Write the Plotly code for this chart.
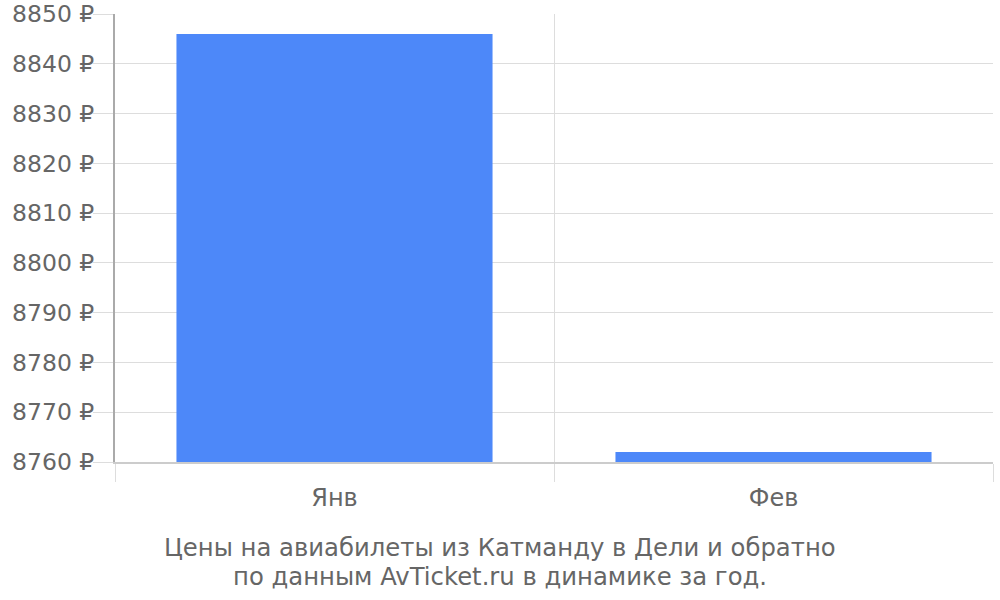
import plotly.graph_objects as go

months = ["Янв", "Фев"]
prices = [8846, 8762]
y_ticks = [8760, 8770, 8780, 8790, 8800, 8810, 8820, 8830, 8840, 8850]
y_tick_labels = [f"{v} ₽" for v in y_ticks]
title_lines = ["Цены на авиабилеты из Катманду в Дели и обратно",
               "по данным AvTicket.ru в динамике за год."]

font = "DejaVu Sans"
grey = "#666666"

W, H = 1000, 600
plot_left, plot_right, plot_top, plot_bottom = 115, 993, 14, 462

fig = go.Figure(go.Bar(
    x=months, y=[p - y_ticks[0] for p in prices], base=y_ticks[0],
    marker=dict(color="#4d88f9", line=dict(width=0)),
    width=0.72,
    hoverinfo="skip",
))

title_y_px = [547, 576]
title_x_px = 500
annotations = []
for line, ypx in zip(title_lines, title_y_px):
    annotations.append(dict(
        text=line,
        x=(title_x_px - plot_left) / (plot_right - plot_left),
        y=(plot_bottom - ypx) / (plot_bottom - plot_top),
        xref="paper", yref="paper", xanchor="center", yanchor="middle",
        showarrow=False, font=dict(family=font, size=24.3, color=grey)))

fig.update_layout(
    width=W, height=H,
    margin=dict(l=plot_left, r=W - plot_right, t=plot_top, b=H - plot_bottom, pad=0),
    paper_bgcolor="white", plot_bgcolor="white",
    showlegend=False,
    font=dict(family=font, color=grey, size=24),
    annotations=annotations,
)

fig.update_xaxes(
    type="category", range=[-0.5, 1.5], automargin=False,
    tickson="boundaries", ticks="outside", ticklen=18, tickcolor="#dddddd", tickwidth=1,
    showgrid=True, gridcolor="#dddddd", gridwidth=1,
    showline=True, linecolor="#cccccc", linewidth=2,
    ticklabelstandoff=13,
    tickfont=dict(family=font, size=24, color=grey),
)
fig.update_yaxes(
    range=[8760, 8850], tickvals=y_ticks, ticktext=y_tick_labels, automargin=False,
    ticks="outside", ticklen=20, tickcolor="#dddddd", tickwidth=1,
    showgrid=True, gridcolor="#dddddd", gridwidth=1,
    showline=True, linecolor="#aaaaaa", linewidth=2,
    zeroline=False,
    ticklabelstandoff=-6,
    tickfont=dict(family=font, size=23.5, color=grey),
)

fig.write_html(
    "out.html",
    config={"displayModeBar": False, "staticPlot": True},
    post_script="document.body.style.margin='0';document.body.style.overflow='hidden';",
)
